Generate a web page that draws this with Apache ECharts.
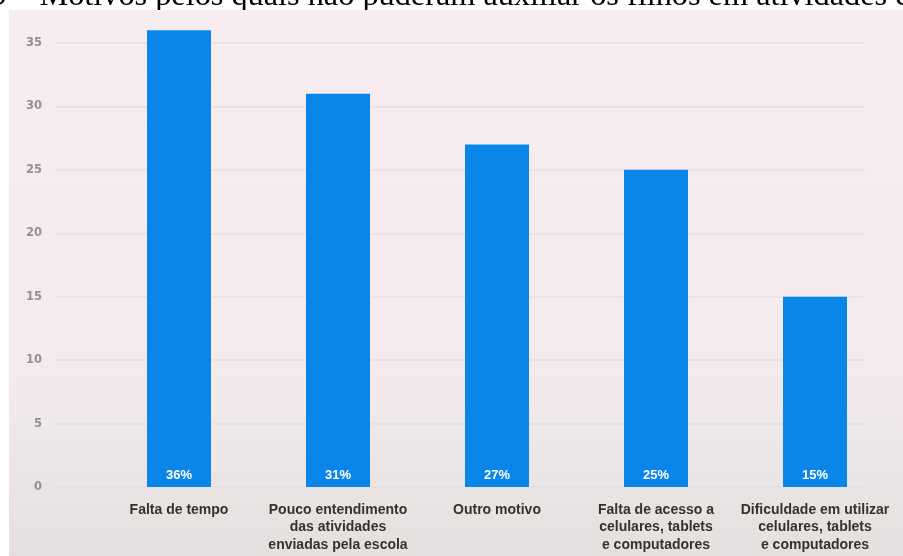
<!DOCTYPE html>
<html>
<head>
<meta charset="utf-8">
<script src="https://cdn.jsdelivr.net/npm/echarts@6/dist/echarts.min.js"></script>
<style>
  html, body { margin: 0; padding: 0; background: #ffffff; }
  #chart { width: 903px; height: 556px; }
</style>
</head>
<body>
<div id="chart"></div>
<script>
// Reasons parents could not help their children with school activities
const categories = [
  'Falta de tempo',
  'Pouco entendimento\ndas atividades\nenviadas pela escola',
  'Outro motivo',
  'Falta de acesso a\ncelulares, tablets\ne computadores',
  'Dificuldade em utilizar\ncelulares, tablets\ne computadores'
];
const percentages = [36, 31, 27, 25, 15];
const yTicks = { min: 0, max: 35, step: 5 };
const titleText = '9 – Motivos pelos quais não puderam auxiliar os filhos em atividades escolares';

const chart = echarts.init(document.getElementById('chart'), null, { renderer: 'canvas' });

const option = {
  backgroundColor: '#ffffff',
  animation: false,
  graphic: [
    {
      type: 'text',
      left: -9,
      top: -19,
      z: -2,
      style: {
        text: titleText,
        font: '32.3px "Liberation Serif", "Times New Roman", serif',
        fill: '#000000'
      }
    },
    {
      type: 'rect',
      shape: { x: 9, y: 10, width: 900, height: 550 },
      z: -1,
      style: {
        fill: {
          type: 'linear', x: 0, y: 0, x2: 0, y2: 1,
          colorStops: [
            { offset: 0, color: '#f7ecef' },
            { offset: 0.62, color: '#f5ebee' },
            { offset: 0.76, color: '#efe8e9' },
            { offset: 1, color: '#e5dfdf' }
          ]
        }
      }
    }
  ],
  grid: [
    // grid carrying the y scale labels and the horizontal rules
    { left: 55, right: 38, top: 43, bottom: 69, containLabel: false },
    // grid carrying the bars
    { left: 99.5, right: 8.5, top: 30.3, bottom: 69, containLabel: false }
  ],
  xAxis: [
    { gridIndex: 0, type: 'value', show: false, min: 0, max: 1 },
    {
      gridIndex: 1,
      type: 'category',
      data: categories,
      axisLine: { show: false },
      axisTick: { show: false },
      axisLabel: {
        interval: 0,
        margin: 14,
        color: '#36312d',
        fontFamily: '"Liberation Sans", Arial, sans-serif',
        fontWeight: 'bold',
        fontSize: 14,
        lineHeight: 17.5,
        align: 'center'
      }
    }
  ],
  yAxis: [
    {
      gridIndex: 0,
      type: 'value',
      min: yTicks.min,
      max: yTicks.max,
      interval: yTicks.step,
      axisLine: { show: false },
      axisTick: { show: false },
      axisLabel: {
        margin: 13,
        color: '#939092',
        fontFamily: '"DejaVu Sans", sans-serif',
        fontWeight: 'bold',
        fontSize: 11.5
      },
      splitLine: { show: true, lineStyle: { color: '#e6dfe2', width: 1.5 } }
    },
    {
      gridIndex: 1,
      type: 'value',
      min: 0,
      max: 36,
      show: false,
      splitLine: { show: false }
    }
  ],
  series: [
    {
      type: 'bar',
      xAxisIndex: 1,
      yAxisIndex: 1,
      data: percentages,
      barWidth: 64,
      itemStyle: { color: '#0a86ea' },
      label: {
        show: true,
        position: 'insideBottom',
        distance: 5,
        formatter: p => p.value + '%',
        color: '#ffffff',
        fontFamily: '"Liberation Sans", Arial, sans-serif',
        fontWeight: 'bold',
        fontSize: 13
      }
    }
  ]
};

chart.setOption(option);
</script>
</body>
</html>
